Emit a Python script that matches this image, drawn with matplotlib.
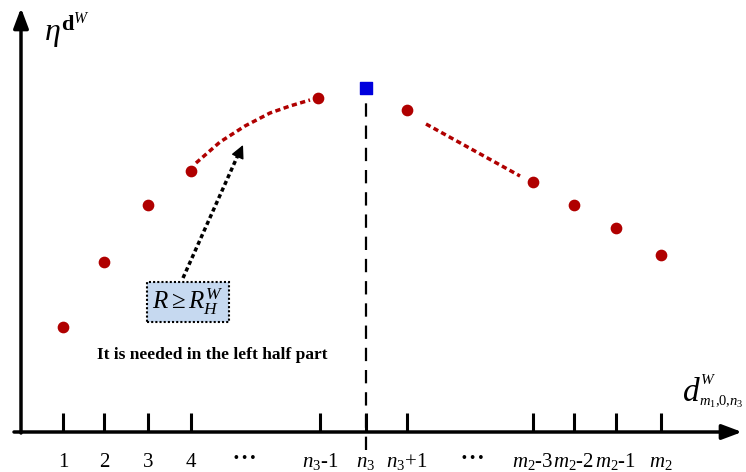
import numpy as np
import matplotlib.pyplot as plt

plt.rcParams['font.family'] = ['Liberation Serif', 'DejaVu Serif']
plt.rcParams['mathtext.fontset'] = 'custom'
plt.rcParams['mathtext.rm'] = 'Liberation Serif'
plt.rcParams['mathtext.it'] = 'Liberation Serif:italic'
plt.rcParams['mathtext.bf'] = 'Liberation Serif:bold'

# ---- data (x in drawing units, eta as height above axis) ----
tick_x = [63, 104, 148, 191, 320, 366, 407, 533, 574, 616, 661]
tick_labels = ['1', '2', '3', '4', r'$n_3$-1', r'$n_3$', r'$n_3$+1',
               r'$m_2$-3', r'$m_2$-2', r'$m_2$-1', r'$m_2$']

left_x = [63, 104, 148, 191, 318]
left_eta = [145, 210, 267, 301, 374]
peak_x = [366]
peak_eta = [384]
right_x = [407, 533, 574, 616, 661]
right_eta = [362, 290, 267, 244, 217]

# dashed trends between points
curve_x = [196, 220, 245, 270, 290, 310]
curve_eta = [309, 330, 346, 359, 366, 372]
line_x = [426, 520]
line_eta = [348, 296]

H = 472
red = '#b00000'

fig = plt.figure(figsize=(7.46, 4.72), dpi=100)
ax = fig.add_axes([0, 0, 1, 1])
ax.set_xlim(0, 746)
ax.set_ylim(0, H)
ax.axis('off')

y0 = H - 432  # axis level

# axes with arrows
ax.annotate('', xy=(742, y0), xytext=(14, y0),
            arrowprops=dict(arrowstyle='-|>,head_length=1.2,head_width=0.45',
                            lw=2.5, color='black', shrinkA=0, shrinkB=0))
ax.annotate('', xy=(21, H - 8), xytext=(21, y0 - 1),
            arrowprops=dict(arrowstyle='-|>,head_length=1.2,head_width=0.45',
                            lw=2.5, color='black', shrinkA=0, shrinkB=0))

# ticks and labels
for x, lab in zip(tick_x, tick_labels):
    ax.plot([x, x], [y0, y0 + 19], color='black', lw=2.2, solid_capstyle='butt')
    ax.text(x, H - 467, lab, ha='center', va='baseline', fontsize=15)

for dx in [245, 473]:
    ax.text(dx, H - 459, '\u2022 \u2022 \u2022', ha='center', va='center',
            fontsize=10, fontweight='bold')

# vertical dashed line at n3
ax.plot([366, 366], [H - 450, peak_eta[0] - 6], color='black', lw=1.6,
        dashes=(6, 4))

# points
ax.scatter(left_x, left_eta, s=55, color=red, zorder=3)
ax.scatter(right_x, right_eta, s=55, color=red, zorder=3)
ax.scatter(peak_x, peak_eta, s=80, marker='s', color='#0000dd', zorder=3)

ax.plot(curve_x, curve_eta, color=red, lw=2.5, dashes=(1.5, 1))
ax.plot(line_x, line_eta, color=red, lw=2.5, dashes=(1.5, 1))

# annotation arrow (dotted shaft + head) and box
ax.plot([183, 238], [H - 278, H - 155], color='black', lw=2.5, dashes=(1.2, 0.9))
ax.annotate('', xy=(243, H - 145), xytext=(238, H - 156),
            arrowprops=dict(arrowstyle='-|>,head_length=0.8,head_width=0.4',
                            lw=1, color='black', shrinkA=0, shrinkB=0))
ax.text(188, H - 302, r'$R \geq R_H^W$', ha='center', va='center', fontsize=18,
        bbox=dict(boxstyle='square,pad=0.2', facecolor='#c6d9f0',
                  edgecolor='black', lw=1.5, linestyle=(0, (1, 1))))
ax.text(212, H - 355, 'It is needed in the left half part', ha='center',
        va='center', fontsize=12.5, fontweight='bold')

# axis labels
ax.text(44, H - 31, r'$\eta^{\mathbf{d}^W}$', ha='left', va='center', fontsize=23)
ax.text(682, H - 401, '$d$', ha='left', va='baseline', fontsize=24)
ax.text(700, H - 384, '$W$', ha='left', va='baseline', fontsize=11)
ax.text(699, H - 406, r'$m_1{,}0{,}n_3$', ha='left', va='baseline', fontsize=10.5)

fig.savefig('out.png', dpi=100)
